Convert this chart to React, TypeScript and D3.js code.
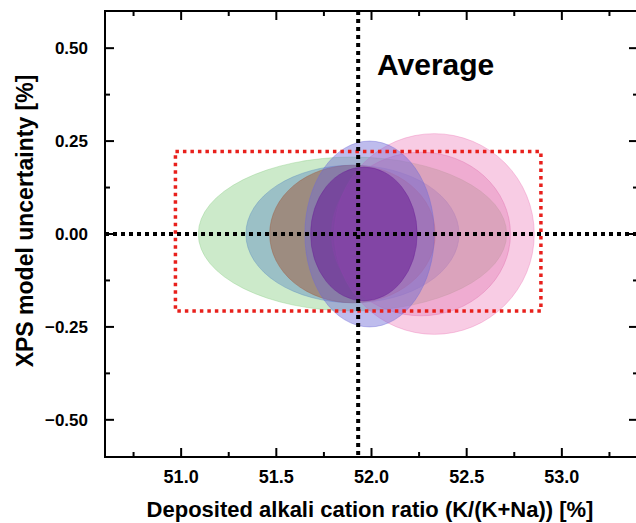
import { useEffect, useRef } from 'react'
import * as d3 from 'd3'

// ellipse data: centre (x), half-width (rx) and half-height (ry) in data units
const sampleNames = ['S1', 'S2', 'S3', 'S4', 'S5', 'S6', 'S7']
const centerX = [51.9, 51.9, 51.9, 52.33, 52.26, 51.99, 51.96]
const centerY = [0, 0, 0, 0, 0, 0, 0]
const halfWidth = [0.81, 0.56, 0.435, 0.525, 0.47, 0.34, 0.28]
const halfHeight = [0.207, 0.185, 0.185, 0.27, 0.22, 0.25, 0.18]
const fills = ['#8fd08a', '#5f8fc0', '#a0583a', '#ee80bc', '#e070b0', '#6e6ad8', '#6a1e96']
const opacities = [0.45, 0.45, 0.5, 0.4, 0.35, 0.45, 0.55]

const averageX = 51.93
const averageY = 0
const boxX = [50.97, 52.89]
const boxY = [-0.207, 0.222]

const xTicks = [51.0, 51.5, 52.0, 52.5, 53.0]
const yTicks = [-0.5, -0.25, 0, 0.25, 0.5]

export default function App() {
  const svgRef = useRef<SVGSVGElement>(null)

  useEffect(() => {
    const width = 636, height = 523
    const left = 105, right = 638, top = 11, bottom = 457
    const svg = d3.select(svgRef.current)
    svg.selectAll('*').remove()
    svg.attr('width', width).attr('height', height)

    const x = d3.scaleLinear().domain([50.6, 53.4]).range([left, right])
    const y = d3.scaleLinear().domain([-0.6, 0.6]).range([bottom, top])
    const font = 'Liberation Sans, Arial, sans-serif'

    // ellipses
    sampleNames.forEach((_, i) => {
      svg.append('ellipse')
        .attr('cx', x(centerX[i]))
        .attr('cy', y(centerY[i]))
        .attr('rx', x(centerX[i] + halfWidth[i]) - x(centerX[i]))
        .attr('ry', y(0) - y(halfHeight[i]))
        .attr('fill', fills[i])
        .attr('fill-opacity', opacities[i])
        .attr('stroke', fills[i])
        .attr('stroke-opacity', 0.4)
        .attr('stroke-width', 1)
    })

    // red average range box
    svg.append('rect')
      .attr('x', x(boxX[0])).attr('y', y(boxY[1]))
      .attr('width', x(boxX[1]) - x(boxX[0]))
      .attr('height', y(boxY[0]) - y(boxY[1]))
      .attr('fill', 'none')
      .attr('stroke', '#e8201c')
      .attr('stroke-width', 3.5)
      .attr('stroke-dasharray', '3.5 4')

    // average cross lines
    svg.append('line')
      .attr('x1', x(averageX)).attr('x2', x(averageX))
      .attr('y1', top).attr('y2', bottom)
      .attr('stroke', '#000').attr('stroke-width', 4)
      .attr('stroke-dasharray', '4 4')
    svg.append('line')
      .attr('x1', left).attr('x2', right)
      .attr('y1', y(averageY)).attr('y2', y(averageY))
      .attr('stroke', '#000').attr('stroke-width', 4)
      .attr('stroke-dasharray', '4 4')

    svg.append('text')
      .attr('x', 377).attr('y', 75)
      .attr('font-family', font).attr('font-weight', 'bold').attr('font-size', 30)
      .text('Average')

    // frame
    svg.append('rect')
      .attr('x', left).attr('y', top)
      .attr('width', right - left).attr('height', bottom - top)
      .attr('fill', 'none').attr('stroke', '#000').attr('stroke-width', 2)

    const xMinor = d3.range(50.75, 53.4, 0.5)
    const yMinor = [-0.375, -0.125, 0.125, 0.375]

    const tick = (x1: number, y1: number, x2: number, y2: number) =>
      svg.append('line').attr('x1', x1).attr('y1', y1).attr('x2', x2).attr('y2', y2)
        .attr('stroke', '#000').attr('stroke-width', 2)

    xTicks.forEach(v => { tick(x(v), bottom, x(v), bottom - 9); tick(x(v), top, x(v), top + 9) })
    xMinor.forEach(v => { tick(x(v), bottom, x(v), bottom - 5); tick(x(v), top, x(v), top + 5) })
    yTicks.forEach(v => { tick(left, y(v), left + 9, y(v)); tick(right, y(v), right - 9, y(v)) })
    yMinor.forEach(v => { tick(left, y(v), left + 5, y(v)); tick(right, y(v), right - 5, y(v)) })

    svg.append('g').selectAll('text').data(xTicks).enter().append('text')
      .attr('x', d => x(d)).attr('y', 483)
      .attr('text-anchor', 'middle')
      .attr('font-family', font).attr('font-weight', 'bold').attr('font-size', 18)
      .text(d => d3.format('.1f')(d))

    svg.append('g').selectAll('text').data(yTicks).enter().append('text')
      .attr('x', 88).attr('y', d => y(d) + 6)
      .attr('text-anchor', 'end')
      .attr('font-family', font).attr('font-weight', 'bold').attr('font-size', 17)
      .text(d => d3.format('.2f')(d))

    svg.append('text')
      .attr('x', 370).attr('y', 517)
      .attr('text-anchor', 'middle')
      .attr('font-family', font).attr('font-weight', 'bold').attr('font-size', 22)
      .text('Deposited alkali cation ratio (K/(K+Na)) [%]')

    svg.append('text')
      .attr('transform', 'translate(33,221) rotate(-90)')
      .attr('text-anchor', 'middle')
      .attr('font-family', font).attr('font-weight', 'bold').attr('font-size', 23)
      .text('XPS model uncertainty [%]')
  }, [])

  return <svg ref={svgRef} style={{ position: 'absolute', left: 0, top: 0 }} />
}
